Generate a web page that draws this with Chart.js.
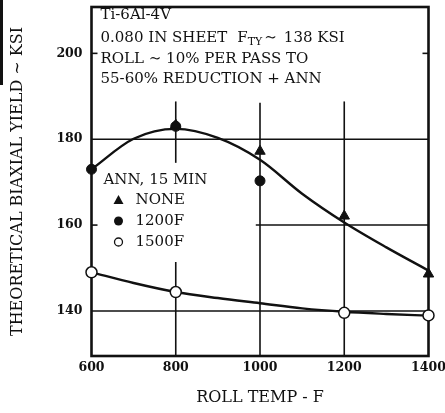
<!DOCTYPE html>
<html><head><meta charset="utf-8">
<script src="https://cdn.jsdelivr.net/npm/chart.js@4/dist/chart.umd.min.js"></script>
<style>html,body{margin:0;padding:0;background:#fff}canvas{display:block}</style>
</head><body>
<canvas id="c" width="445" height="413"></canvas>
<script>
// ---- data ----
const xTicks = [600, 800, 1000, 1200, 1400];
const yTicks = [140, 160, 180, 200];
const noneX = [800, 1000, 1200, 1400];
const noneY = [183.3, 177.2, 162.1, 148.6];
const f1200X = [600, 800, 1000];
const f1200Y = [173, 183, 170.3];
const f1500X = [600, 800, 1200, 1400];
const f1500Y = [149, 144.4, 139.55, 138.95];
const upperX = [600, 700, 800, 900, 1000, 1100, 1200, 1300, 1400];
const upperY = [173, 180.1, 182.4, 180.3, 175.2, 167.3, 160.6, 154.8, 149.4];
const lowerX = [600, 700, 800, 900, 1000, 1100, 1200, 1300, 1400];
const lowerY = [149, 146.5, 144.4, 143, 141.8, 140.6, 139.8, 139.3, 138.9];
const infoLines = ['Ti-6Al-4V', '0.080 IN SHEET', 'ROLL \u223C 10% PER PASS TO', '55-60% REDUCTION + ANN'];
const legendTitle = 'ANN, 15 MIN';
const legendLabels = ['NONE', '1200F', '1500F'];

const pts = (xs, ys) => xs.map((v, i) => ({x: v, y: ys[i]}));
const INK = '#111';
const SERIF = '"DejaVu Serif", "Liberation Serif", serif';

const decor = {
  id: 'decor',
  beforeDatasetsDraw(chart) {
    const {ctx, chartArea: a, scales: {x, y}} = chart;
    const X = v => x.getPixelForValue(v), Y = v => y.getPixelForValue(v);
    ctx.save();
    ctx.strokeStyle = INK;
    ctx.lineWidth = 1.6;
    const h = (v, x0, x1) => { ctx.beginPath(); ctx.moveTo(x0, Y(v)); ctx.lineTo(x1, Y(v)); ctx.stroke(); };
    const vl = (v, y0, y1) => { ctx.beginPath(); ctx.moveTo(X(v), Y(y0)); ctx.lineTo(X(v), Y(y1)); ctx.stroke(); };
    h(180, a.left, a.right);
    h(140, a.left, a.right);
    h(160, X(990), a.right);
    h(160, a.left, a.left + 6);
    h(200, a.left, a.left + 6);
    h(200, a.right - 6, a.right);
    vl(800, 188.8, 174.5);
    vl(800, 151.4, y.min);
    vl(1000, 188.5, y.min);
    vl(1200, 188.8, y.min);
    ctx.lineWidth = 2.6;
    ctx.strokeRect(a.left, a.top, a.right - a.left, a.bottom - a.top);
    ctx.fillStyle = INK;
    ctx.fillRect(0, 0, 3, 85);
    ctx.restore();
  },
  afterDraw(chart) {
    const {ctx, chartArea: a} = chart;
    ctx.save();
    ctx.fillStyle = INK;
    ctx.textBaseline = 'middle';
    ctx.textAlign = 'left';
    ctx.font = '15px ' + SERIF;
    const lx = a.left + 9;
    const ly = [15, 38, 59, 79];
    infoLines.forEach((t, i) => ctx.fillText(t, lx, ly[i]));
    // rest of line 2: F_TY ~ 138 KSI
    let px = lx + ctx.measureText(infoLines[1]).width + 10;
    ctx.fillText('F', px, ly[1]);
    px += ctx.measureText('F').width;
    ctx.font = '11px ' + SERIF;
    ctx.fillText('TY', px, ly[1] + 4);
    px += ctx.measureText('TY').width + 2;
    ctx.font = '15px ' + SERIF;
    ctx.fillText('\u223C', px, ly[1]);
    px += ctx.measureText('\u223C').width + 7;
    ctx.fillText('138 KSI', px, ly[1]);
    // legend
    ctx.fillText(legendTitle, a.left + 12, 180);
    const mx = a.left + 27, tx = a.left + 44;
    const rows = [200, 221, 242];
    legendLabels.forEach((t, i) => ctx.fillText(t, tx, rows[i]));
    // markers
    ctx.beginPath();
    ctx.moveTo(mx, rows[0] - 5); ctx.lineTo(mx + 5, rows[0] + 4); ctx.lineTo(mx - 5, rows[0] + 4); ctx.closePath();
    ctx.fill();
    ctx.beginPath(); ctx.arc(mx, rows[1], 4.5, 0, Math.PI * 2); ctx.fill();
    ctx.beginPath(); ctx.arc(mx, rows[2], 4, 0, Math.PI * 2);
    ctx.fillStyle = '#fff'; ctx.fill(); ctx.strokeStyle = INK; ctx.lineWidth = 1.3; ctx.stroke();
    ctx.restore();
  }
};

new Chart(document.getElementById('c'), {
  type: 'scatter',
  data: {
    datasets: [
      {label: 'NONE', data: pts(noneX, noneY), pointStyle: 'triangle', pointRadius: 6,
       backgroundColor: INK, borderColor: INK, borderWidth: 1, showLine: false, clip: false},
      {label: '1200F', data: pts(f1200X, f1200Y), pointStyle: 'circle', pointRadius: 5,
       backgroundColor: INK, borderColor: INK, borderWidth: 1, showLine: false, clip: false},
      {label: '1500F', data: pts(f1500X, f1500Y), pointStyle: 'circle', pointRadius: 5.5,
       backgroundColor: '#fff', borderColor: INK, borderWidth: 1.5, showLine: false, clip: false},
      {label: 'fit upper', data: pts(upperX, upperY), showLine: true, pointRadius: 0,
       borderColor: INK, borderWidth: 2.4, cubicInterpolationMode: 'monotone', fill: false},
      {label: 'fit lower', data: pts(lowerX, lowerY), showLine: true, pointRadius: 0,
       borderColor: INK, borderWidth: 2.4, cubicInterpolationMode: 'monotone', fill: false}
    ]
  },
  options: {
    responsive: false,
    animation: false,
    layout: {padding: {top: 5, right: 16.5, left: 0, bottom: 0}},
    plugins: {legend: {display: false}, tooltip: {enabled: false}},
    scales: {
      x: {
        type: 'linear', min: 600, max: 1400,
        afterBuildTicks: s => { s.ticks = xTicks.map(v => ({value: v})); },
        afterFit: s => { s.height = 57; s.paddingLeft = 0; s.paddingRight = 0; },
        grid: {display: false, drawTicks: false},
        border: {display: false},
        ticks: {padding: 4, autoSkip: false, maxRotation: 0, color: INK, callback: v => String(v),
                font: {family: SERIF, size: 12.5, weight: 'bold'}},
        title: {display: true, text: 'ROLL TEMP - F', color: INK, padding: {top: 0, bottom: 6},
                font: {family: SERIF, size: 16}}
      },
      y: {
        type: 'linear', min: 129.5, max: 210.8,
        afterBuildTicks: s => { s.ticks = yTicks.map(v => ({value: v})); },
        afterFit: s => { s.width = 91.5; s.paddingTop = 0; s.paddingBottom = 0; },
        grid: {display: false, drawTicks: false},
        border: {display: false},
        ticks: {padding: 9, color: INK, callback: v => String(v),
                font: {family: SERIF, size: 12.5, weight: 'bold'}},
        title: {display: true, text: 'THEORETICAL BIAXIAL YIELD ~ KSI', color: INK,
                padding: {top: 8.5, bottom: 0}, font: {family: SERIF, size: 16}}
      }
    }
  },
  plugins: [decor]
});
</script>
</body></html>
